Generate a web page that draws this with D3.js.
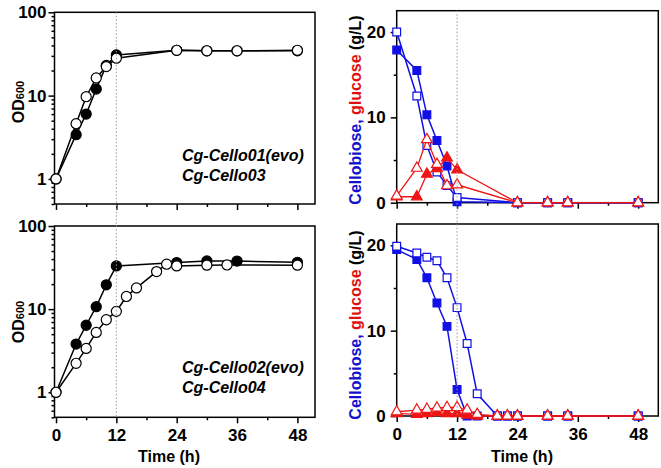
<!DOCTYPE html>
<html>
<head>
<meta charset="UTF-8">
<title>Growth and sugar consumption</title>
<script src="https://cdn.jsdelivr.net/npm/d3@7"></script>
<style>
    body { margin: 0; background: #fff; }
    text { font-family: "Liberation Sans", Arial, sans-serif; font-weight: bold; }
    .frame { fill: none; stroke: #000; stroke-width: 1.5; }
    .axis path { display: none; }
    .axis line { stroke: #000; stroke-width: 1.5; }
    .axis text { font-size: 17px; fill: #000; }
</style>
</head>
<body>
<script>
// ---- data ----
// growth, top: Cg-Cello01(evo) filled, Cg-Cello03 open
const timeGrowth1 = [0, 4, 6, 8, 10, 12, 24, 30, 36, 48];
const odEvo01 = [1, 3.4, 6.0, 12.0, 23, 30.8, 35, 34.5, 34.5, 34.5];
const odCello03 = [1, 4.6, 9.7, 16.3, 22.3, 28.1, 35, 34.5, 34.5, 35];

// growth, bottom: Cg-Cello02(evo) filled, Cg-Cello04 open
const timeEvo02 = [0, 4, 6, 8, 10, 12, 24, 30, 36, 48];
const odEvo02 = [1, 3.8, 6.4, 10.7, 19.6, 33.1, 36.3, 38, 37.9, 36.6];
const timeCello04 = [0, 4, 6, 8, 10, 12, 14, 16, 20, 22, 24, 30, 34, 48];
const odCello04 = [1, 2.23, 3.37, 5.25, 7.45, 9.4, 14.2, 18, 28.3, 34.7, 33.1, 33.8, 34, 33.8];

// sugars, top (g/L)
const timeSugar1 = [0, 4, 6, 8, 10, 12, 24, 30, 34, 48];
const cbEvo01 = [17.9, 15.5, 10.3, 7.3, 4.3, 0.1, 0, 0, 0, 0];
const cbCello03 = [20, 12.5, 6.7, 3.6, 2.0, 0.6, 0, 0, 0, 0];
const glcEvo01 = [0.7, 0.7, 3.35, 4.0, 5.25, 3.85, 0, 0, 0, 0];
const glcCello03 = [0.8, 4.05, 7.4, 4.5, 2.0, 2.1, 0, 0, 0, 0];

// sugars, bottom (g/L)
const timeSugar2 = [0, 4, 6, 8, 10, 12, 14, 16, 20, 22, 24, 30, 34, 48];
const cbEvo02 = [19.5, 18.35, 16.2, 13.25, 10.5, 3.1, 0, 0, 0, 0, 0, 0, 0, 0];
const cbCello04 = [19.9, 19.1, 18.6, 18.2, 16.2, 12.7, 8.5, 2.6, 0, 0, 0, 0, 0, 0];
const glcEvo02 = [0.3, 0.2, 0.3, 0.4, 0.3, 0.3, 0.1, 0, 0, 0, 0, 0, 0, 0];
const glcCello04 = [0.5, 0.7, 0.8, 0.95, 1.0, 1.0, 0.7, 0.2, 0, 0, 0, 0, 0, 0];

const timeTicks = [0, 12, 24, 36, 48];
const timeMinor = [6, 18, 30, 42];
const odTicks = [1, 10, 100];
const sugarTicks = [0, 10, 20];
const sugarMinor = [5, 15];

const BLUE = "#1010e6", RED = "#ee1515";

const svg = d3.select("body").append("svg")
    .attr("width", 661).attr("height", 468);

const zip = (t, v) => t.map((d, i) => [d, v[i]]);

function panel(box, xDomain, yScaleType, yDomain, showXLabels) {
    const x = d3.scaleLinear().domain(xDomain).range([box.left, box.right]);
    const y = (yScaleType === "log" ? d3.scaleLog() : d3.scaleLinear())
        .domain(yDomain).range([box.bottom, box.top]);
    const g = svg.append("g");

    // x ticks
    g.append("g").attr("class", "axis")
        .attr("transform", "translate(0," + box.bottom + ")")
        .call(d3.axisBottom(x).tickValues(timeMinor).tickSize(3).tickFormat(""));
    g.append("g").attr("class", "axis")
        .attr("transform", "translate(0," + box.bottom + ")")
        .call(d3.axisBottom(x).tickValues(timeTicks).tickSize(6).tickPadding(6)
            .tickFormat(showXLabels ? d3.format("d") : ""));

    // y ticks
    if (yScaleType === "log") {
        const minor = [];
        [0.1, 1, 10].forEach(dec => d3.range(2, 10).forEach(k => {
            const v = dec * k;
            if (v >= yDomain[0] && v <= yDomain[1]) minor.push(v);
        }));
        g.append("g").attr("class", "axis")
            .attr("transform", "translate(" + box.left + ",0)")
            .call(d3.axisLeft(y).tickValues(minor).tickSize(3).tickFormat(""));
        g.append("g").attr("class", "axis")
            .attr("transform", "translate(" + box.left + ",0)")
            .call(d3.axisLeft(y).tickValues(odTicks).tickSize(6).tickPadding(2)
                .tickFormat(d3.format("d")));
    } else {
        g.append("g").attr("class", "axis")
            .attr("transform", "translate(" + box.left + ",0)")
            .call(d3.axisLeft(y).tickValues(sugarMinor).tickSize(3).tickFormat(""));
        g.append("g").attr("class", "axis")
            .attr("transform", "translate(" + box.left + ",0)")
            .call(d3.axisLeft(y).tickValues(sugarTicks).tickSize(6).tickPadding(5)
                .tickFormat(d3.format("d")));
    }

    g.append("rect").attr("class", "frame")
        .attr("x", box.left).attr("y", box.top)
        .attr("width", box.right - box.left).attr("height", box.bottom - box.top);

    return { x, y, g };
}

function series(p, pts, opt) {
    const line = d3.line().x(d => p.x(d[0])).y(d => p.y(d[1]));
    p.g.append("path").datum(pts)
        .attr("d", line).attr("fill", "none")
        .attr("stroke", opt.color).attr("stroke-width", opt.lw || 1.5);
    const fill = opt.filled ? opt.color : "#fff";
    const sym = d3.symbol().type(opt.shape).size(opt.size);
    p.g.append("g").selectAll("path").data(pts).join("path")
        .attr("transform", d => "translate(" + p.x(d[0]) + "," + p.y(d[1]) + ")")
        .attr("d", sym)
        .attr("fill", fill).attr("stroke", opt.color).attr("stroke-width", 1.2);
}

function note(p, x, y, lines) {
    const t = p.g.append("text").attr("x", x).attr("y", y)
        .attr("font-size", 16).attr("font-style", "italic");
    lines.forEach((s, i) => t.append("tspan").attr("x", x).attr("dy", i ? 20 : 0).text(s));
}

function odLabel(cx, cy) {
    const t = svg.append("text")
        .attr("transform", "translate(" + cx + "," + cy + ") rotate(-90)")
        .attr("text-anchor", "middle").attr("font-size", 16);
    t.append("tspan").text("OD");
    t.append("tspan").attr("font-size", 11).text("600");
}

function sugarLabel(cx, cy) {
    const t = svg.append("text")
        .attr("transform", "translate(" + cx + "," + cy + ") rotate(-90)")
        .attr("text-anchor", "middle").attr("font-size", 16);
    t.append("tspan").attr("fill", "#1212cc").text("Cellobiose, ");
    t.append("tspan").attr("fill", "#e01010").text("glucose ");
    t.append("tspan").attr("fill", "#000").text("(g/L)");
}

function timeLabel(cx, cy) {
    svg.append("text").attr("x", cx).attr("y", cy)
        .attr("text-anchor", "middle").attr("font-size", 16).text("Time (h)");
}

const leftX = [-0.3, 51.5], rightX = [0, 52];
const boxTL = { left: 54.5, right: 315, top: 12.3, bottom: 204 };
const boxBL = { left: 54.5, right: 315, top: 226, bottom: 417.3 };
const boxTR = { left: 396.7, right: 658.3, top: 10.7, bottom: 202.7 };
const boxBR = { left: 396.7, right: 658.3, top: 224, bottom: 416 };

const pTL = panel(boxTL, leftX, "log", [0.5, 100], false);
const pBL = panel(boxBL, leftX, "log", [0.5, 100], true);
const pTR = panel(boxTR, rightX, "linear", [0, 22.5], false);
const pBR = panel(boxBR, rightX, "linear", [0, 22.5], true);

// dotted guide at 12 h running through both rows
[[pTL, boxTL, boxBL], [pTR, boxTR, boxBR]].forEach(([p, a, b]) => {
    svg.append("line")
        .attr("x1", p.x(12)).attr("x2", p.x(12))
        .attr("y1", a.top).attr("y2", b.bottom)
        .attr("stroke", "#999").attr("stroke-width", 1).attr("stroke-dasharray", "1.5,2");
});

const circ = { shape: d3.symbolCircle, size: 80, color: "#000" };
series(pTL, zip(timeGrowth1, odEvo01), { ...circ, filled: true });
series(pTL, zip(timeGrowth1, odCello03), { ...circ, filled: false });
series(pBL, zip(timeEvo02, odEvo02), { ...circ, filled: true });
series(pBL, zip(timeCello04, odCello04), { ...circ, filled: false });

const sq = { shape: d3.symbolSquare, size: 60, color: BLUE };
const tri = { shape: d3.symbolTriangle, size: 50, color: RED, lw: 1.3 };
series(pTR, zip(timeSugar1, cbEvo01), { ...sq, filled: true });
series(pTR, zip(timeSugar1, cbCello03), { ...sq, filled: false });
series(pTR, zip(timeSugar1, glcEvo01), { ...tri, filled: true });
series(pTR, zip(timeSugar1, glcCello03), { ...tri, filled: false });

series(pBR, zip(timeSugar2, cbEvo02), { ...sq, filled: true });
series(pBR, zip(timeSugar2, cbCello04), { ...sq, filled: false });
series(pBR, zip(timeSugar2, glcEvo02), { ...tri, filled: true });
series(pBR, zip(timeSugar2, glcCello04), { ...tri, filled: false });

note(pTL, 182, 161, ["Cg-Cello01(evo)", "Cg-Cello03"]);
note(pBL, 182, 373, ["Cg-Cello02(evo)", "Cg-Cello04"]);

odLabel(24, 102);
odLabel(24, 322);
sugarLabel(361, 110);
sugarLabel(361, 325);
timeLabel(169, 462);
timeLabel(522, 462);
</script>
</body>
</html>
